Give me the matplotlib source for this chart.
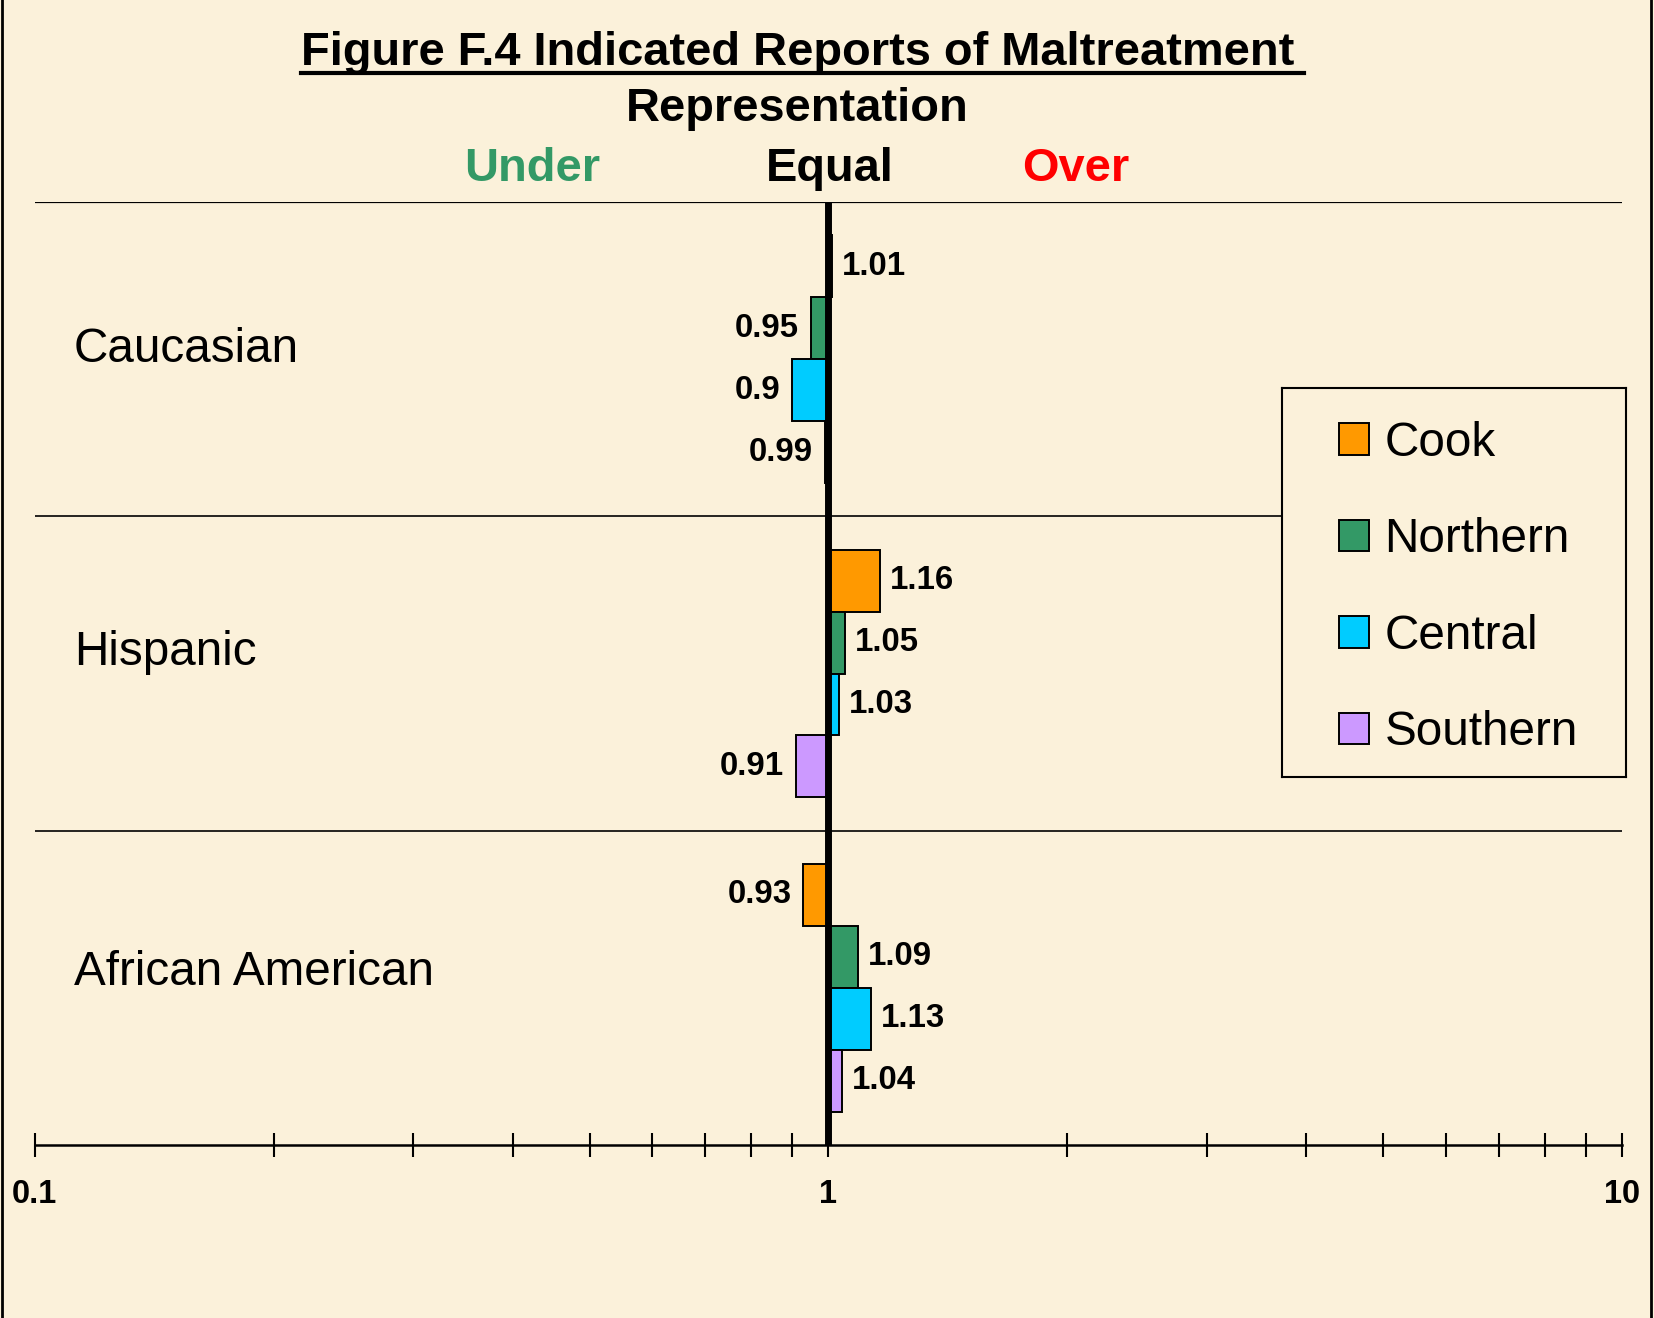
import matplotlib
matplotlib.use("Agg")
import matplotlib.pyplot as plt
from matplotlib.patches import Patch
from matplotlib.lines import Line2D
from matplotlib.transforms import blended_transform_factory, offset_copy
import numpy as np

# ---- data ----
categories = ["Caucasian", "Hispanic", "African American"]
series = ["Cook", "Northern", "Central", "Southern"]
cook = [1.01, 1.16, 0.93]
northern = [0.95, 1.05, 1.09]
central = [0.90, 1.03, 1.13]
southern = [0.99, 0.91, 1.04]
tick_values = [0.1, 1, 10]
tick_labels = ["0.1", "1", "10"]

colors = ["#FF9900", "#339966", "#00CCFF", "#CC99FF"]
BG = "#FBF1DA"
W, H = 1654, 1318

plt.rcParams["font.family"] = ["Liberation Sans", "DejaVu Sans"]

fig = plt.figure(figsize=(W / 100, H / 100), dpi=100, facecolor=BG)

def fx(px):
    return px / W

def fy(py):
    return 1 - py / H

# main axes
ax_l, ax_r, ax_t, ax_b = 34.8, 1622, 202, 1145
ax = fig.add_axes([fx(ax_l), fy(ax_b), fx(ax_r - ax_l), (ax_b - ax_t) / H])
ax.set_facecolor("none")
ax.set_xscale("log")
ax.set_xlim(0.1, 10)
ax.set_ylim(2.5, -0.5)

vals = [cook, northern, central, southern]
bar_h = 0.197
n = len(series)
VFS = 23.8
for j, (name, v, c) in enumerate(zip(series, vals, colors)):
    ys = np.arange(len(categories)) + (j - (n - 1) / 2) * bar_h
    v = np.array(v)
    ax.barh(ys, v - 1, left=1, height=bar_h, color=c, edgecolor="black",
            linewidth=1.4, zorder=3)
    for y, val in zip(ys, v):
        if val >= 1:
            tr = offset_copy(ax.transData, fig=fig, x=10, y=0, units="dots")
            ax.text(val, y, f"{val:g}", transform=tr, ha="left", va="center",
                    fontsize=VFS, fontweight="bold", zorder=5)
        else:
            tr = offset_copy(ax.transData, fig=fig, x=-12, y=0, units="dots")
            ax.text(val, y, f"{val:g}", transform=tr, ha="right", va="center",
                    fontsize=VFS, fontweight="bold", zorder=5)

# separators and top line
ax.axhline(-0.5, color="black", lw=1.6, zorder=2)
for s in [0.5, 1.5]:
    ax.axhline(s, color="black", lw=1.2, zorder=2)

# equal line
ax.axvline(1, color="black", lw=5, zorder=4)

# spines / ticks
for side in ["top", "right", "left"]:
    ax.spines[side].set_visible(False)
ax.spines["bottom"].set_linewidth(1.8)
ax.set_yticks([])
ax.set_xticks(tick_values)
ax.set_xticklabels(tick_labels, fontsize=23.5, fontweight="bold")
ax.tick_params(axis="x", which="both", direction="inout", length=17, width=1.5, pad=16)
ax.xaxis.set_minor_formatter(matplotlib.ticker.NullFormatter())

# category labels
btr = blended_transform_factory(ax.transAxes, ax.transData)
label_shift = [-0.03, -0.067, -0.05]
for i, cat in enumerate(categories):
    ax.text(0.0247, i + label_shift[i], cat, transform=btr, ha="left", va="center", fontsize=34.3)

# titles
TFS = 33.8
fig.text(fx(301), fy(53), "Figure F.4 Indicated Reports of Maltreatment ", ha="left", va="center",
         fontsize=TFS, fontweight="bold")
fig.add_artist(Line2D([fx(301), fx(1304)], [fy(73), fy(73)], color="black", lw=3))
fig.text(fx(797), fy(109), "Representation", ha="center", va="center", fontsize=TFS, fontweight="bold")
fig.text(fx(532), fy(169), "Under", ha="center", va="center", fontsize=TFS, fontweight="bold", color="#339966")
fig.text(fx(830), fy(169), "Equal", ha="center", va="center", fontsize=TFS, fontweight="bold", color="black")
fig.text(fx(1076), fy(169), "Over", ha="center", va="center", fontsize=TFS, fontweight="bold", color="#FF0000")

# legend in its own boxed axes
lx0, lx1, ly0, ly1 = 1282, 1626, 388, 777
lax = fig.add_axes([fx(lx0), fy(ly1), fx(lx1 - lx0), (ly1 - ly0) / H])
lax.set_facecolor(BG)
lax.set_xticks([]); lax.set_yticks([])
for sp in lax.spines.values():
    sp.set_linewidth(1.5)
    sp.set_color("black")
handles = [Patch(facecolor=c, edgecolor="black", linewidth=1.4) for c in colors]
lax.legend(handles, series, loc="center left", bbox_to_anchor=(0.096, 0.486), frameon=False,
           fontsize=34.3, handlelength=0.63, handleheight=0.63, handletextpad=0.33,
           labelspacing=1.08, borderpad=0)

# figure side borders
fig.add_artist(Line2D([0.001, 0.001], [0, 1], color="black", lw=2))
fig.add_artist(Line2D([1 - 0.002, 1 - 0.002], [0, 1], color="black", lw=2))

fig.savefig("out.png", dpi=100, facecolor=BG)
